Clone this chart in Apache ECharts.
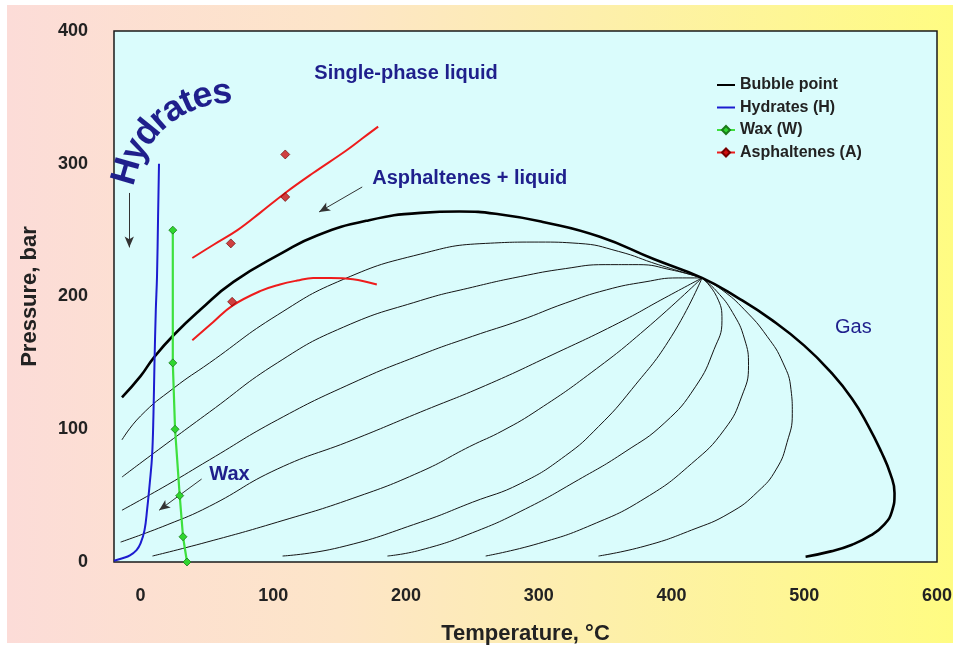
<!DOCTYPE html>
<html><head><meta charset="utf-8">
<script src="https://cdn.jsdelivr.net/npm/echarts/dist/echarts.min.js"></script>
<style>
html,body{margin:0;padding:0;background:#fff;}
#bg{position:absolute;left:7px;top:5px;width:946px;height:638px;
 background:linear-gradient(to right,#fcdcd8 0%,#fde5c8 35%,#fdf0a8 65%,#fffc82 100%);}
#c{position:absolute;left:0;top:0;width:960px;height:648px;}
</style>
</head><body><div id="bg"></div><div id="c"></div>
<script>
// ---- data (Temperature °C, Pressure bar) ----
const xTicks = [0, 100, 200, 300, 400, 500, 600];
const yTicks = [0, 100, 200, 300, 400];
const bubblePoint = [[-14,124],[0,140],[10,154],[25,171],[45,190],[70,211],[107,233],[133,246],[170,257],[211,263],[240,264],[270,262],[304,256],[346,245],[387,228],[423,214],[450,199],[476,182],[500,163],[520,143],[536,123],[548,103],[558,83],[565,66],[568,52],[566,38],[560,28],[550,20],[536,13],[520,8],[501,4]];
const hydrates = [[-20,1],[-13,3],[-8,5],[-3,9],[0,14],[3,24],[5,40],[7,60],[8.7,80],[9.7,110],[10.5,150],[11.5,190],[12.4,215],[13.2,260],[13.9,300]];
const wax = [[35,0],[32,19],[29.5,50],[26,100],[24.3,150],[24.3,250]];
const asphUpper = [[39,229],[55,239],[73,250],[90,263],[109,278],[130,293],[155,310],[167,319],[179,328]];
const asphLower = [[39,167],[55,181],[69,193],[90,204],[105,209],[118,212],[130,214],[143,214],[160,213],[178,209]];
const asphPoints = [[109,307],[109,275],[68,240],[69,196]];
const qA = [[-14,92],[0,110],[25,131],[52,150],[103,186],[153,213],[211,232],[260,240],[300,241],[330,240],[360,234],[390,224],[423,214]];
const qB = [[-14,64],[10,82],[52,113],[103,150],[153,177],[211,197],[250,207],[286,215],[320,221],[350,224],[375,224],[400,220],[423,214]];
const qC = [[-14,39],[20,58],[52,77],[103,107],[160,135],[211,156],[250,170],[286,182],[320,195],[351,205],[380,211],[405,214],[423,214]];
const qD = [[-15,15],[20,28],[52,42],[103,70],[160,92],[211,113],[260,133],[310,156],[360,180],[395,199],[423,214]];
const qE = [[9,4.5],[50,15],[103,30],[160,48],[211,68],[248,87],[273,99],[300,115],[340,143],[380,175],[423,214]];
const qF = [[107,4.5],[150,11],[211,30],[250,45],[286,59],[320,80],[345,102],[370,130],[400,170],[423,214]];
const qG = [[186,4.5],[211,9],[250,22],[290,40],[330,62],[365,83],[395,105],[418,132],[432,160],[438,182],[434,200],[423,214]];
const qH = [[260,4.5],[300,14],[340,28],[380,48],[415,74],[440,100],[453,125],[458,148],[455,168],[446,188],[434,204],[423,214]];
const qI = [[345,4.5],[380,12],[415,24],[444,37],[465,53],[479,70],[487,90],[491,112],[490,130],[484,150],[472,170],[455,190],[438,205],[423,214]];
const qualityLines = [qA,qB,qC,qD,qE,qF,qG,qH,qI];
// annotations
const arrows = [[[-8.5,278],[-8.5,237]], [[46,62.5],[14,39]], [[167,282.5],[134.5,263.7]]];
const notes = [
  {text:'Single-phase liquid', at:[200,368], bold:true},
  {text:'Asphaltenes + liquid', at:[248,289], bold:true},
  {text:'Gas', at:[537,177], bold:false},
  {text:'Wax', at:[67,66], bold:true}
];
const arcWord = 'Hydrates';
const arcCenter = [68.5, 271.5];

const FONT = '"Liberation Sans", Arial, Helvetica, sans-serif';
const NAVY = '#1f1f8c';
const chart = echarts.init(document.getElementById('c'), null, {renderer:'canvas'});

const thin = qualityLines.map((d,i)=>({
  type:'line', name:'q'+i, data:d, smooth:0.5, symbol:'none', silent:true, z:2,
  lineStyle:{color:'#151515', width:1}
}));
thin[0].markLine = {
  silent:true, symbol:['none','arrow'], symbolSize:[7,11],
  lineStyle:{color:'#333', width:1, type:'solid'}, label:{show:false},
  emphasis:{disabled:true},
  data: arrows.map(a=>[{coord:a[0]},{coord:a[1]}])
};

const option = {
  animation:false,
  backgroundColor:'transparent',
  grid:{left:114, right:23, top:31, bottom:86, outerBoundsMode:'none', containLabel:false,
    show:true, backgroundColor:'#dafcfc', borderColor:'#1a1a1a', borderWidth:1.5},
  xAxis:{type:'value', min:-20, max:600,
    name:'Temperature, °C', nameLocation:'middle', nameGap:61,
    nameTextStyle:{fontFamily:FONT, fontSize:22, fontWeight:'bold', color:'#222'},
    axisLine:{show:false}, axisTick:{show:false}, splitLine:{show:false},
    axisLabel:{customValues:xTicks, fontFamily:FONT, fontSize:18, fontWeight:'bold', color:'#222', margin:25}
  },
  yAxis:{type:'value', min:0, max:400, interval:100,
    name:'Pressure, bar', nameLocation:'middle', nameGap:73,
    nameTextStyle:{fontFamily:FONT, fontSize:22, fontWeight:'bold', color:'#222'},
    axisLine:{show:false}, axisTick:{show:false}, splitLine:{show:false},
    axisLabel:{customValues:yTicks, fontFamily:FONT, fontSize:18, fontWeight:'bold', color:'#222', margin:26}
  },
  legend:{
    orient:'vertical', left:711, top:72, itemWidth:18, itemHeight:10, itemGap:6.5,
    textStyle:{fontFamily:FONT, fontSize:16, fontWeight:'bold', color:'#222'},
    data:[
      {name:'Bubble point', itemStyle:{opacity:0}},
      {name:'Hydrates (H)', itemStyle:{opacity:0}},
      {name:'Wax (W)'},
      {name:'Asphaltenes (A)'}
    ]
  },
  series:[
    ...thin,
    {type:'line', name:'Bubble point', data:bubblePoint, smooth:0.5, symbol:'none', z:3,
      lineStyle:{color:'#000', width:2.6}, itemStyle:{color:'#000'}},
    {type:'line', name:'Hydrates (H)', data:hydrates, smooth:0.4, symbol:'none', z:4,
      lineStyle:{color:'#1c1cd0', width:2}, itemStyle:{color:'#1c1cd0'}},
    {type:'line', name:'Wax (W)', data:wax, smooth:false, symbol:'diamond', symbolSize:8, z:5,
      lineStyle:{color:'#3ee03e', width:2.2}, itemStyle:{color:'#2fd62f', borderColor:'#1a7a1a', borderWidth:0.8}},
    {type:'line', name:'Asphaltenes (A)', data:asphUpper, smooth:0.4, symbol:'diamond', showSymbol:false, symbolSize:8, z:5,
      lineStyle:{color:'#ee1c1c', width:2}, itemStyle:{color:'#d01010', borderColor:'#700', borderWidth:0.8}},
    {type:'line', name:'asphLower', data:asphLower, smooth:0.4, symbol:'none', z:5,
      lineStyle:{color:'#ee1c1c', width:2}},
    {type:'scatter', name:'asphPts', data:asphPoints, symbol:'diamond', symbolSize:9, z:6,
      itemStyle:{color:'#cc1010', borderColor:'#600', borderWidth:0.8}}
  ]
};
chart.setOption(option);

// annotations placed through the grid's scale
const graphics = [];
notes.forEach(n=>{
  const p = chart.convertToPixel({gridIndex:0}, n.at);
  graphics.push({type:'text', x:p[0], y:p[1], z:10, silent:true,
    style:{text:n.text, align:'center', verticalAlign:'middle', fill:NAVY,
      font:(n.bold?'bold ':'')+'20px '+FONT}});
});
// curved "Hydrates"
(function(){
  const c = chart.convertToPixel({gridIndex:0}, arcCenter);
  const r = 108.7, fs = 36;
  const cv = document.createElement('canvas').getContext('2d');
  cv.font = 'bold '+fs+'px '+FONT;
  const w = arcWord.split('').map(ch=>cv.measureText(ch).width);
  let s = 0;
  const th0 = 196*Math.PI/180;
  for (let i=0;i<arcWord.length;i++){
    if (i>0) s += (w[i-1]+w[i])/2;
    const th = th0 + s/r;
    const x = c[0] + r*Math.cos(th), y = c[1] + r*Math.sin(th);
    const phi = Math.atan2(-Math.cos(th), -Math.sin(th));
    graphics.push({type:'text', x:x, y:y, rotation:phi, z:10, silent:true,
      style:{text:arcWord[i], align:'center', verticalAlign:'middle', fill:NAVY, font:'bold '+fs+'px '+FONT}});
  }
})();
chart.setOption({graphic:graphics});
</script>
</body></html>
